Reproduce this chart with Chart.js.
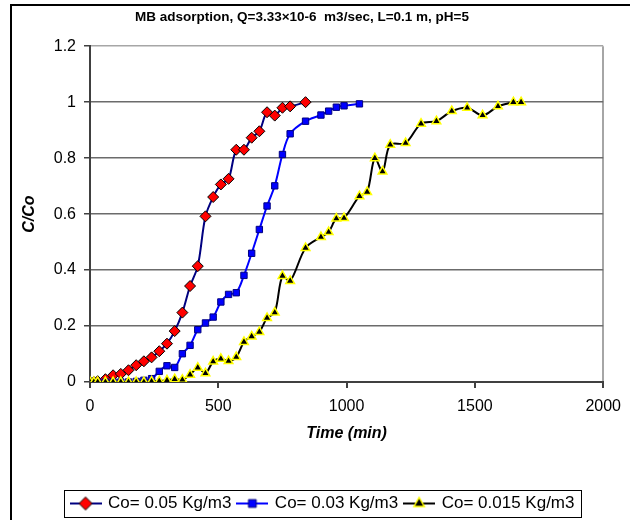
<!DOCTYPE html>
<html>
<head>
<meta charset="utf-8">
<script src="https://cdn.jsdelivr.net/npm/chart.js@4.4.1/dist/chart.umd.min.js"></script>
<style>
  html, body { margin: 0; padding: 0; background: #fff; overflow: hidden; }
  #wrap { position: relative; width: 630px; height: 520px; }
  #frame {
    position: absolute; left: 10px; top: 4px; width: 700px; height: 600px;
    border-left: 2px solid #000; border-top: 2px solid #000; pointer-events: none;
  }
</style>
</head>
<body>
<div id="wrap">
  <canvas id="chart" width="630" height="520"></canvas>
  <div id="frame"></div>
</div>
<script>
// Breakthrough curves, C/Co against time (min)
const seriesNames = ['Co= 0.05 Kg/m3', 'Co= 0.03 Kg/m3', 'Co= 0.015 Kg/m3'];

const timeHigh = [0, 15, 30, 60, 90, 120, 150, 180, 210, 240, 270, 300, 330, 360, 390, 420,
  450, 480, 510, 540, 570, 600, 630, 660, 690, 720, 750, 780, 840];
const ratioHigh = [0, 0, 0.003, 0.01, 0.024, 0.029, 0.042, 0.06, 0.074, 0.088, 0.11, 0.137, 0.182,
  0.248, 0.343, 0.414, 0.592, 0.661, 0.706, 0.726, 0.83, 0.83, 0.873, 0.896, 0.964, 0.952,
  0.98, 0.985, 1.0];

const timeMid = [0, 15, 30, 60, 90, 120, 150, 180, 210, 240, 270, 300, 330, 360, 390, 420,
  450, 480, 510, 540, 570, 600, 630, 660, 690, 720, 750, 780, 840, 900, 930, 960, 990, 1050];
const ratioMid = [0, 0, 0, 0, 0, 0, 0, 0.002, 0.006, 0.012, 0.038, 0.058, 0.052, 0.101, 0.131,
  0.187, 0.211, 0.232, 0.286, 0.313, 0.319, 0.381, 0.46, 0.545, 0.629, 0.701, 0.813, 0.887,
  0.932, 0.954, 0.968, 0.982, 0.987, 0.994];

const timeLow = [0, 15, 30, 60, 90, 120, 150, 180, 210, 240, 270, 300, 330, 360, 390, 420,
  450, 480, 510, 540, 570, 600, 630, 660, 690, 720, 750, 780, 840, 900, 930, 960, 990, 1050,
  1080, 1110, 1140, 1170, 1230, 1290, 1350, 1410, 1470, 1530, 1590, 1650, 1680];
const ratioLow = [0, 0, 0, 0, 0, 0, 0, 0, 0, 0.002, 0.003, 0.006, 0.01, 0.008, 0.026, 0.051,
  0.031, 0.073, 0.083, 0.075, 0.089, 0.143, 0.163, 0.179, 0.229, 0.248, 0.379, 0.361, 0.479,
  0.518, 0.536, 0.584, 0.586, 0.664, 0.679, 0.8, 0.752, 0.848, 0.854, 0.923, 0.932, 0.968,
  0.98, 0.953, 0.985, 1.0, 1.0];

const xMin = 0, xMax = 2000, xStep = 500;
const yMin = 0, yMax = 1.2, yStep = 0.2;

Chart.defaults.font.family = "'Liberation Sans', Arial, sans-serif";
Chart.defaults.color = '#000';

function toPoints(xs, ys) {
  return xs.map((x, i) => ({ x: x, y: ys[i] }));
}

// marker styles shared by the plot and the legend symbols
const markers = [
  { line: '#000080', shape: 'rectRot', r: 5.5, fill: '#ff0000', stroke: '#000000', sw: 1 },
  { line: '#0000ff', shape: 'rect', r: 4.5, fill: '#0000ff', stroke: '#000080', sw: 1 },
  { line: '#000000', shape: 'triangle', r: 5, fill: '#000000', stroke: '#ffff00', sw: 1.5 }
];

// small canvas with a line segment and the marker on it, used as legend symbol
function legendSymbol(m) {
  const c = document.createElement('canvas');
  c.width = 32; c.height = 16;
  const g = c.getContext('2d');
  g.strokeStyle = m.line; g.lineWidth = 2;
  g.beginPath(); g.moveTo(0, 8); g.lineTo(32, 8); g.stroke();
  const x = 16, y = 8, r = m.r + 1;
  g.beginPath();
  if (m.shape === 'rectRot') {
    g.moveTo(x - r, y); g.lineTo(x, y - r); g.lineTo(x + r, y); g.lineTo(x, y + r);
  } else if (m.shape === 'rect') {
    const s = r * Math.SQRT1_2;
    g.rect(x - s, y - s, 2 * s, 2 * s);
  } else {
    g.moveTo(x, y - r);
    g.lineTo(x + 0.866 * r, y + 0.5 * r);
    g.lineTo(x - 0.866 * r, y + 0.5 * r);
  }
  g.closePath();
  g.fillStyle = m.fill; g.fill();
  g.lineWidth = m.sw; g.strokeStyle = m.stroke; g.stroke();
  return c;
}
const symbols = markers.map(legendSymbol);

function makeDataset(i, xs, ys, order) {
  const m = markers[i];
  return {
    label: seriesNames[i],
    data: toPoints(xs, ys),
    borderColor: m.line,
    borderWidth: 2,
    tension: 0.33,
    fill: false,
    pointStyle: m.shape,
    pointRadius: m.r,
    pointHoverRadius: m.r,
    pointBackgroundColor: m.fill,
    pointBorderColor: m.stroke,
    pointBorderWidth: m.sw,
    order: order
  };
}

// moves the legend a bit to the right and draws the box around it
const legendShift = 21;
const legendFrame = {
  id: 'legendFrame',
  afterLayout(chart) {
    chart.legend.left += legendShift;
    chart.legend.right += legendShift;
  },
  afterDraw(chart) {
    const boxes = chart.legend.legendHitBoxes;
    if (!boxes || !boxes.length) return;
    const first = boxes[0], last = boxes[boxes.length - 1];
    const cy = first.top + first.height / 2;
    const x0 = Math.round(first.left - 8) + 0.5;
    const x1 = Math.round(last.left + last.width + 7) + 0.5;
    const y0 = Math.round(cy - 13.5) + 0.5;
    const y1 = Math.round(cy + 13.5) + 0.5;
    const ctx = chart.ctx;
    ctx.save();
    ctx.strokeStyle = '#000';
    ctx.lineWidth = 1;
    ctx.strokeRect(x0, y0, x1 - x0, y1 - y0);
    ctx.restore();
  }
};

new Chart(document.getElementById('chart'), {
  type: 'line',
  data: {
    datasets: [
      makeDataset(0, timeHigh, ratioHigh, 3),
      makeDataset(1, timeMid, ratioMid, 2),
      makeDataset(2, timeLow, ratioLow, 1)
    ]
  },
  options: {
    responsive: false,
    animation: false,
    layout: { padding: { left: 0, right: 26, top: 0, bottom: -2 } },
    scales: {
      x: {
        type: 'linear',
        min: xMin, max: xMax,
        afterFit: s => { s.height = 106; },
        ticks: { stepSize: xStep, padding: 9, font: { size: 16 }, callback: v => String(v) },
        grid: {
          drawOnChartArea: true,
          color: c => (c.tick && c.tick.value === xMax ? '#a6a6a6' : 'rgba(0,0,0,0)'),
          lineWidth: 2,
          tickLength: 6,
          tickColor: '#404040'
        },
        border: { color: '#404040', width: 2 },
        title: {
          display: true, text: 'Time (min)',
          font: { size: 16, weight: 'bold', style: 'italic' },
          padding: { top: 0, bottom: 45 }
        }
      },
      y: {
        min: yMin, max: yMax,
        afterFit: s => { s.width = 90; },
        ticks: {
          stepSize: yStep, padding: 8, font: { size: 16 },
          callback: v => String(Math.round(v * 10) / 10)
        },
        grid: {
          color: c => (c.tick && c.tick.value > yMax - 0.01 ? '#a6a6a6' : '#6b6b6b'),
          lineWidth: 1.5,
          tickLength: 6,
          tickColor: '#404040'
        },
        border: { color: '#404040', width: 2 },
        title: {
          display: true, text: 'C/Co',
          font: { size: 16, weight: 'bold', style: 'italic' },
          padding: { top: 20, bottom: 0 }
        }
      }
    },
    plugins: {
      title: {
        display: true,
        text: 'MB adsorption, Q=3.33×10-6  m3/sec, L=0.1 m, pH=5',
        font: { size: 13.5, weight: 'bold' },
        padding: { top: 9, bottom: 21 }
      },
      legend: {
        position: 'bottom',
        labels: {
          font: { size: 17 },
          usePointStyle: true,
          pointStyleWidth: 28,
          padding: 7,
          generateLabels: chart => {
            const items = Chart.defaults.plugins.legend.labels.generateLabels(chart);
            items.sort((a, b) => a.datasetIndex - b.datasetIndex);
            items.forEach(it => { it.pointStyle = symbols[it.datasetIndex]; });
            return items;
          }
        }
      },
      tooltip: { enabled: false }
    }
  },
  plugins: [legendFrame]
});
</script>
</body>
</html>
